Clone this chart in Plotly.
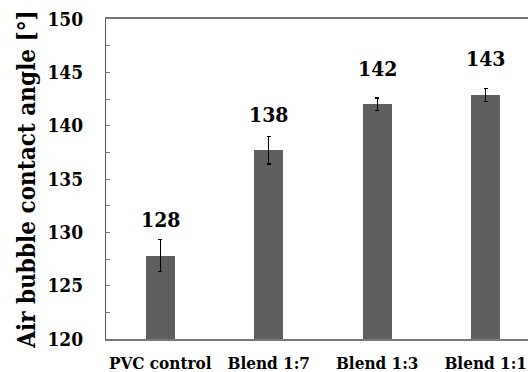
import plotly.graph_objects as go

categories = ["PVC control", "Blend 1:7", "Blend 1:3", "Blend 1:1"]
values = [127.8, 137.7, 142.0, 142.9]
errors = [1.5, 1.3, 0.6, 0.6]
labels = ["128", "138", "142", "143"]
y_ticks = [120, 125, 130, 135, 140, 145, 150]

FONT = "DejaVu Serif Condensed, DejaVu Serif, serif"

fig = go.Figure()
fig.add_trace(go.Bar(
    x=categories, y=values, width=0.27,
    marker=dict(color="#5f5f5f", line=dict(width=0)),
    error_y=dict(type="data", array=errors, visible=True, color="black", thickness=1.2, width=2),
    showlegend=False,
))

for c, v, t in zip(categories, values, labels):
    fig.add_annotation(x=c, y=v, text=f"<b>{t}</b>", showarrow=False, yshift=36,
                       font=dict(family=FONT, size=21, color="black"))

fig.update_layout(
    width=528, height=372,
    margin=dict(l=106, r=0, t=19, b=33),
    paper_bgcolor="white", plot_bgcolor="white",
    bargap=0,
    font=dict(family=FONT),
)
fig.update_xaxes(
    range=[-0.5, 3.39], showline=True, linecolor="#777777", linewidth=1.5, mirror=True,
    ticks="", tickfont=dict(family=FONT, size=17, color="black"),
    tickvals=list(range(len(categories))), ticktext=[f"<b>{c}</b>" for c in categories],
    ticklabelstandoff=8,
)
fig.update_yaxes(
    range=[120, 150], tickvals=y_ticks, ticktext=[f"<b>{v}</b>" for v in y_ticks],
    showgrid=False, zeroline=False, showline=True, linecolor="#555555", linewidth=1.2,
    ticks="inside", ticklen=4, tickcolor="#777777",
    minor=dict(dtick=2.5, tick0=120, ticks="inside", ticklen=4, tickcolor="#777777"),
    tickfont=dict(family=FONT, size=19, color="black"),
    ticklabelstandoff=18,
    title=dict(text="<b>Air bubble contact angle [°]</b>", font=dict(family=FONT, size=24, color="black"), standoff=5),
)

fig.write_html("out.html")
